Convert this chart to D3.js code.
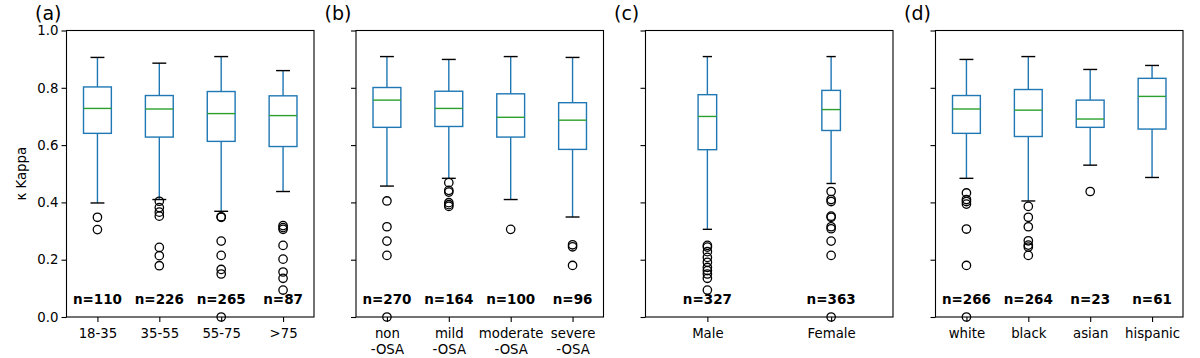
<!DOCTYPE html>
<meta charset="utf-8">
<style>
body { margin: 0; background: #fff; }
text { font-family: "DejaVu Sans", sans-serif; fill: #000; }
.ylab text, .xlab text { font-size: 13.3px; }
.nlab { font-size: 13.5px; font-weight: bold; }
.ttl { font-size: 19px; }
</style>
<svg width="1200" height="358"></svg>
<script src="https://d3js.org/d3.v7.min.js"></script>
<script>

// per panel: categories, box stats [lowWhisker, q1, median, q3, highWhisker], fliers, counts
let titles = ["(a)", "(b)", "(c)", "(d)"];

let catsA = ["18-35", "35-55", "55-75", ">75"];
let statsA = [
  [0.398, 0.641, 0.728, 0.803, 0.906],
  [0.410, 0.628, 0.726, 0.773, 0.886],
  [0.369, 0.613, 0.710, 0.787, 0.909],
  [0.438, 0.595, 0.703, 0.772, 0.860]
];
let outA = [
  [0.348, 0.305],
  [0.404, 0.382, 0.366, 0.352, 0.243, 0.214, 0.179],
  [0.350, 0.348, 0.265, 0.215, 0.166, 0.150, 0.0],
  [0.319, 0.312, 0.306, 0.250, 0.202, 0.157, 0.135, 0.094]
];
let nA = [110, 226, 265, 87];

let catsB = [["non", "-OSA"], ["mild", "-OSA"], ["moderate", "-OSA"], ["severe", "-OSA"]];
let statsB = [
  [0.457, 0.662, 0.757, 0.801, 0.909],
  [0.484, 0.665, 0.728, 0.788, 0.899],
  [0.410, 0.628, 0.697, 0.779, 0.909],
  [0.349, 0.585, 0.687, 0.748, 0.906]
];
let outB = [
  [0.405, 0.315, 0.265, 0.215, 0.0],
  [0.469, 0.442, 0.436, 0.399, 0.392, 0.386],
  [0.306],
  [0.252, 0.245, 0.180]
];
let nB = [270, 164, 100, 96];

let catsC = ["Male", "Female"];
let statsC = [
  [0.306, 0.584, 0.700, 0.776, 0.909],
  [0.466, 0.651, 0.724, 0.791, 0.909]
];
let outC = [
  [0.250, 0.244, 0.228, 0.208, 0.191, 0.173, 0.162, 0.150, 0.135, 0.094],
  [0.438, 0.410, 0.403, 0.352, 0.348, 0.315, 0.308, 0.265, 0.215, 0.0]
];
let nC = [327, 363];

let catsD = ["white", "black", "asian", "hispanic"];
let statsD = [
  [0.484, 0.641, 0.726, 0.773, 0.899],
  [0.405, 0.630, 0.722, 0.794, 0.909],
  [0.530, 0.662, 0.691, 0.757, 0.864],
  [0.487, 0.656, 0.770, 0.833, 0.878]
];
let outD = [
  [0.433, 0.410, 0.403, 0.394, 0.307, 0.180, 0.0],
  [0.386, 0.348, 0.315, 0.266, 0.251, 0.244, 0.215],
  [0.438],
  []
];
let nD = [266, 264, 23, 61];

let yTicks = [0, 0.2, 0.4, 0.6, 0.8, 1.0];

let panels = [
  {cats: catsA, stats: statsA, out: outA, n: nA},
  {cats: catsB, stats: statsB, out: outB, n: nB},
  {cats: catsC, stats: statsC, out: outC, n: nC},
  {cats: catsD, stats: statsD, out: outD, n: nD}
];

let svg = d3.select("svg");
let yTop = 30.5, yBottom = 317, pw = 247.5;
let lefts = [66.5, 356, 645.5, 935.5];

let y = d3.scaleLinear().domain([0, 1]).range([yBottom, yTop]);

let blue = "#1f77b4", green = "#2ca02c";

panels.forEach(function(p, i) {
  let k = p.cats.length;
  let x = d3.scaleLinear().domain([0.5, k + 0.5]).range([lefts[i], lefts[i] + pw]);
  // matplotlib default widths: 0.15 * span of positions, clipped to [0.15, 0.5]
  let w = Math.max(0.15, Math.min(0.5, 0.15 * (k - 1)));
  let g = svg.append("g");

  // y axis
  let ya = g.append("g").attr("class", "ylab")
    .attr("transform", "translate(" + lefts[i] + ",0)")
    .call(d3.axisLeft(y).tickValues(yTicks).tickSize(5).tickPadding(3)
      .tickFormat(i == 0 ? d3.format(".1f") : ""));
  ya.select(".domain").remove();
  ya.selectAll("line").attr("stroke", "#000").attr("stroke-width", 1.1);

  // x axis
  let xa = g.append("g").attr("class", "xlab")
    .attr("transform", "translate(0," + yBottom + ")")
    .call(d3.axisBottom(x).tickValues(d3.range(1, k + 1)).tickSize(5).tickPadding(4).tickFormat(""));
  xa.select(".domain").remove();
  xa.selectAll("line").attr("stroke", "#000").attr("stroke-width", 1.1);
  xa.selectAll(".tick").append("text")
    .attr("text-anchor", "middle")
    .each(function(d) {
      let lab = p.cats[d - 1];
      let lines = Array.isArray(lab) ? lab : [lab];
      let t = d3.select(this);
      lines.forEach(function(s, j) {
        t.append("tspan").attr("x", 0).attr("y", 21 + j * 15.5).text(s);
      });
    });

  let boxes = g.selectAll(".box").data(p.stats).enter().append("g");

  // whiskers
  boxes.append("line")
    .attr("x1", (d, j) => x(j + 1)).attr("x2", (d, j) => x(j + 1))
    .attr("y1", d => y(d[3])).attr("y2", d => y(d[4]))
    .attr("stroke", blue).attr("stroke-width", 1.4);
  boxes.append("line")
    .attr("x1", (d, j) => x(j + 1)).attr("x2", (d, j) => x(j + 1))
    .attr("y1", d => y(d[1])).attr("y2", d => y(d[0]))
    .attr("stroke", blue).attr("stroke-width", 1.4);
  // caps
  [0, 4].forEach(function(c) {
    boxes.append("line")
      .attr("x1", (d, j) => x(j + 1 - w / 4)).attr("x2", (d, j) => x(j + 1 + w / 4))
      .attr("y1", d => y(d[c])).attr("y2", d => y(d[c]))
      .attr("stroke", "#000").attr("stroke-width", 1.4);
  });
  // box
  boxes.append("rect")
    .attr("x", (d, j) => x(j + 1 - w / 2))
    .attr("width", (d, j) => x(j + 1 + w / 2) - x(j + 1 - w / 2))
    .attr("y", d => y(d[3]))
    .attr("height", d => y(d[1]) - y(d[3]))
    .attr("fill", "none").attr("stroke", blue).attr("stroke-width", 1.4);
  // median
  boxes.append("line")
    .attr("x1", (d, j) => x(j + 1 - w / 2)).attr("x2", (d, j) => x(j + 1 + w / 2))
    .attr("y1", d => y(d[2])).attr("y2", d => y(d[2]))
    .attr("stroke", green).attr("stroke-width", 1.4);

  // fliers
  p.out.forEach(function(vals, j) {
    g.selectAll(null).data(vals).enter().append("circle")
      .attr("cx", x(j + 1)).attr("cy", d => y(d)).attr("r", 4.2)
      .attr("fill", "none").attr("stroke", "#000").attr("stroke-width", 1.3);
  });

  // counts
  g.selectAll(".nlab").data(p.n).enter().append("text")
    .attr("class", "nlab")
    .attr("x", (d, j) => x(j + 1)).attr("y", 303.5)
    .attr("text-anchor", "middle")
    .text(d => "n=" + d);

  // frame
  g.append("rect")
    .attr("x", lefts[i]).attr("y", yTop)
    .attr("width", pw).attr("height", yBottom - yTop)
    .attr("fill", "none").attr("stroke", "#000").attr("stroke-width", 1.1);

  g.append("text").attr("class", "ttl")
    .attr("x", lefts[i] - 31.5).attr("y", 19.5)
    .text(titles[i]);
});

svg.append("text")
  .attr("transform", "translate(26," + ((yTop + yBottom) / 2) + ") rotate(-90)")
  .attr("text-anchor", "middle")
  .style("font-size", "13.3px")
  .text("κ Kappa");

</script>
